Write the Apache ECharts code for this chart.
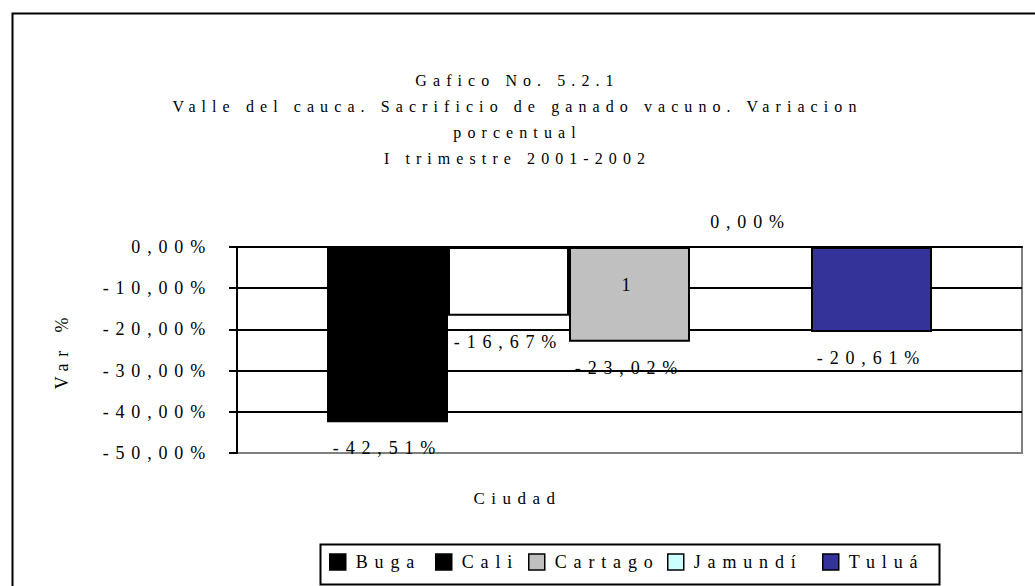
<!DOCTYPE html>
<html>
<head>
<meta charset="utf-8">
<title>Gafico No. 5.2.1</title>
<script src="https://cdn.jsdelivr.net/npm/echarts@6/dist/echarts.min.js"></script>
<style>
  html, body { margin: 0; padding: 0; background: #fff; }
  #chart { width: 1035px; height: 586px; }
  /* letras espaciadas como en el grafico original */
  #chart svg text { letter-spacing: 0.38em; }
</style>
</head>
<body>
<div id="chart"></div>
<script>
  // datos del grafico
  const categorias = ['1'];
  const ciudades = ['Buga', 'Cali', 'Cartago', 'Jamundí', 'Tuluá'];
  const variacion = [-42.51, -16.67, -23.02, 0.00, -20.61];
  const colorBarra = ['#000000', '#FFFFFF', '#C0C0C0', '#CCFFFF', '#333399'];
  const colorLeyenda = ['#000000', '#000000', '#C0C0C0', '#CCFFFF', '#333399'];
  const ejeMin = -50, ejeMax = 0, ejePaso = 10;

  const fuente = 'Liberation Serif, Times New Roman, serif';
  const texto = { fontFamily: fuente, fontSize: 18, color: '#000' };

  function pct(v) {
    return v.toFixed(2).replace('.', ',') + '%';
  }

  const chart = echarts.init(document.getElementById('chart'), null, { renderer: 'svg' });

  const option = {
    animation: false,
    backgroundColor: '#fff',
    title: [{
      text: 'Gafico No. 5.2.1\nValle del cauca. Sacrificio de ganado vacuno. Variacion\nporcentual\nI trimestre 2001-2002',
      left: 'center',
      top: 62,
      textStyle: Object.assign({}, texto, { fontSize: 16, fontWeight: 'normal', lineHeight: 26 })
    }, {
      text: 'Ciudad',
      left: 'center',
      top: 485,
      textStyle: Object.assign({}, texto, { fontSize: 17, fontWeight: 'normal' })
    }],
    graphic: [{
      // borde del area del grafico
      type: 'rect',
      left: 10, top: 11,
      shape: { width: 1100, height: 700 },
      style: { fill: 'none', stroke: '#000', lineWidth: 2 },
      silent: true
    }, {
      // marco de la leyenda
      type: 'rect',
      left: 318, top: 542,
      shape: { width: 619, height: 40 },
      style: { fill: 'none', stroke: '#000', lineWidth: 2 },
      silent: true
    }],
    legend: [329, 435, 528, 667, 822].map((x, i) => ({
      data: [{ name: ciudades[i], itemStyle: { color: colorLeyenda[i], borderColor: '#000', borderWidth: 1.5 } }],
      left: x,
      top: 553,
      padding: 0,
      icon: 'rect',
      itemWidth: 16,
      itemHeight: 16,
      selectedMode: false,
      textStyle: Object.assign({}, texto, { padding: [0, 0, 0, 5] })
    })),
    grid: {
      left: 237,
      right: 13,
      top: 247,
      bottom: 133,
      containLabel: false,
      show: true,
      borderColor: '#808080',
      borderWidth: 2,
      backgroundColor: '#fff'
    },
    xAxis: {
      type: 'category',
      data: categorias,
      position: 'top',
      z: 10,
      axisLine: { onZero: false, lineStyle: { color: '#000', width: 2 } },
      axisTick: { show: false },
      axisLabel: Object.assign({}, texto, { inside: true, margin: 29 }),
      splitLine: { show: false }
    },
    yAxis: {
      type: 'value',
      min: ejeMin,
      max: ejeMax,
      interval: ejePaso,
      name: 'Var %',
      nameLocation: 'middle',
      nameRotate: 90,
      nameGap: 166,
      nameTextStyle: texto,
      axisLine: { show: true, lineStyle: { color: '#000', width: 2 } },
      axisTick: { show: true, length: 8, lineStyle: { color: '#000', width: 2 } },
      axisLabel: Object.assign({}, texto, { margin: 25, formatter: pct }),
      splitLine: { show: true, lineStyle: { color: ['#808080', '#000', '#000', '#000', '#000', '#000'], width: 2 } }
    },
    series: ciudades.map((c, i) => ({
      name: c,
      type: 'bar',
      barWidth: 121,
      barGap: '0%',
      itemStyle: { color: colorBarra[i], borderColor: '#000', borderWidth: 2 },
      label: Object.assign({}, texto, {
        show: true,
        position: variacion[i] < 0 ? 'bottom' : 'top',
        distance: variacion[i] < 0 ? 17 : 15,
        formatter: p => pct(p.value)
      }),
      data: [variacion[i]]
    }))
  };

  chart.setOption(option);
</script>
</body>
</html>
